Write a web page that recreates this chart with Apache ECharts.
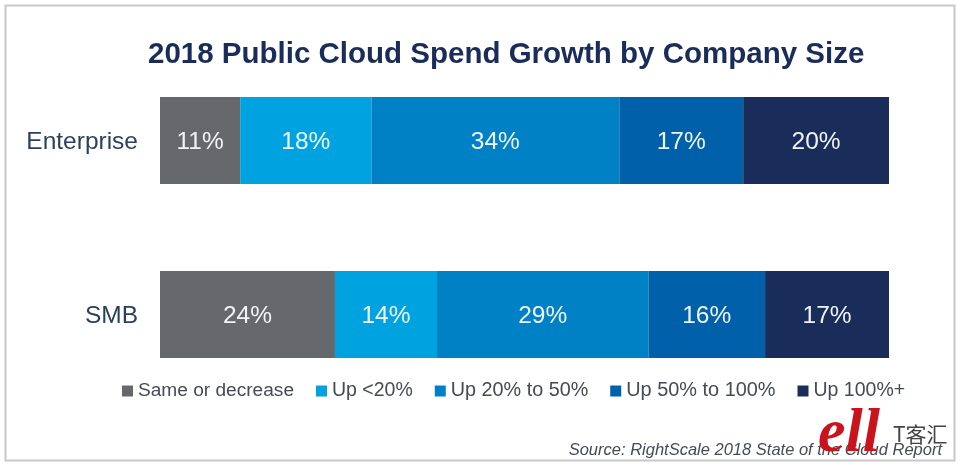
<!DOCTYPE html>
<html>
<head>
<meta charset="utf-8">
<script src="https://cdn.jsdelivr.net/npm/echarts@6/dist/echarts.min.js"></script>
<style>
html, body { margin: 0; padding: 0; background: #fff; }
#main { width: 960px; height: 468px; }
</style>
</head>
<body>
<div id="main"></div>
<script>
var categories = ['Enterprise', 'SMB'];
var seriesNames = ['Same or decrease', 'Up <20%', 'Up 20% to 50%', 'Up 50% to 100%', 'Up 100%+'];
var sameOrDecrease = [11, 24];
var upTo20 = [18, 14];
var up20To50 = [34, 29];
var up50To100 = [17, 16];
var up100Plus = [20, 17];
var colors = ['#67686c', '#00a3e0', '#0081c6', '#0060a9', '#1a2c59'];
var legendFontSizes = [19.1, 19.5, 19.8, 19.9, 19.5];

var font = 'Liberation Sans';
var values = [sameOrDecrease, upTo20, up20To50, up50To100, up100Plus];

var chart = echarts.init(document.getElementById('main'));

var series = [];
var legendData = [];
for (var i = 0; i < seriesNames.length; i++) {
    series.push({
        name: seriesNames[i],
        type: 'bar',
        stack: 'total',
        barWidth: 87,
        data: values[i],
        itemStyle: { color: colors[i] },
        label: {
            show: true,
            position: 'inside',
            offset: [0, 1.5],
            formatter: '{c}%',
            color: '#eef4f8',
            fontFamily: font,
            fontSize: 24.5
        }
    });
    legendData.push({
        name: seriesNames[i],
        textStyle: { fontSize: legendFontSizes[i] }
    });
}

var option = {
    color: colors,
    title: {
        text: '2018 Public Cloud Spend Growth by Company Size',
        left: 148,
        top: 40,
        padding: 0,
        textStyle: { color: '#1a2c59', fontFamily: font, fontSize: 29.5, fontWeight: 'bold' }
    },
    legend: {
        data: legendData,
        left: 117,
        top: 376,
        itemWidth: 11,
        itemHeight: 11,
        itemGap: 22,
        icon: 'rect',
        textStyle: { color: '#454a55', fontFamily: font }
    },
    // 两个类目各占174px，柱子中心落在140和314附近
    grid: { left: 160, right: 71, top: 53.5, height: 348 },
    xAxis: {
        type: 'value',
        min: 0,
        max: 100,
        show: false
    },
    yAxis: {
        type: 'category',
        inverse: true,
        data: categories,
        axisLine: { show: false },
        axisTick: { show: false },
        axisLabel: {
            margin: 22,
            formatter: '{name|{value}}',
            rich: {
                name: { color: '#2d3f5f', fontFamily: font, fontSize: 24.5, padding: [4, 0, 0, 0] }
            }
        }
    },
    series: series,
    graphic: [
        {
            type: 'rect',
            silent: true,
            shape: { x: 5.5, y: 5.5, width: 949, height: 455 },
            style: { fill: 'none', stroke: '#c8c8c8', lineWidth: 2 }
        },
        {
            type: 'text',
            right: 18,
            top: 442,
            style: {
                text: 'Source: RightScale 2018 State of the Cloud Report',
                fill: '#454a55',
                fontFamily: font,
                fontSize: 16.5,
                fontStyle: 'italic'
            }
        },
        // 右下角水印
        {
            type: 'text',
            left: 818,
            top: 404,
            style: {
                text: 'ell',
                fill: '#c9141e',
                fontFamily: 'Liberation Serif',
                fontSize: 62,
                fontStyle: 'italic',
                fontWeight: 'bold'
            }
        },
        {
            type: 'text',
            left: 893,
            top: 424,
            style: {
                text: 'T客汇',
                fill: '#444',
                fontFamily: 'Noto Sans CJK SC',
                fontSize: 21
            }
        }
    ]
};
chart.setOption(option);
</script>
</body>
</html>
